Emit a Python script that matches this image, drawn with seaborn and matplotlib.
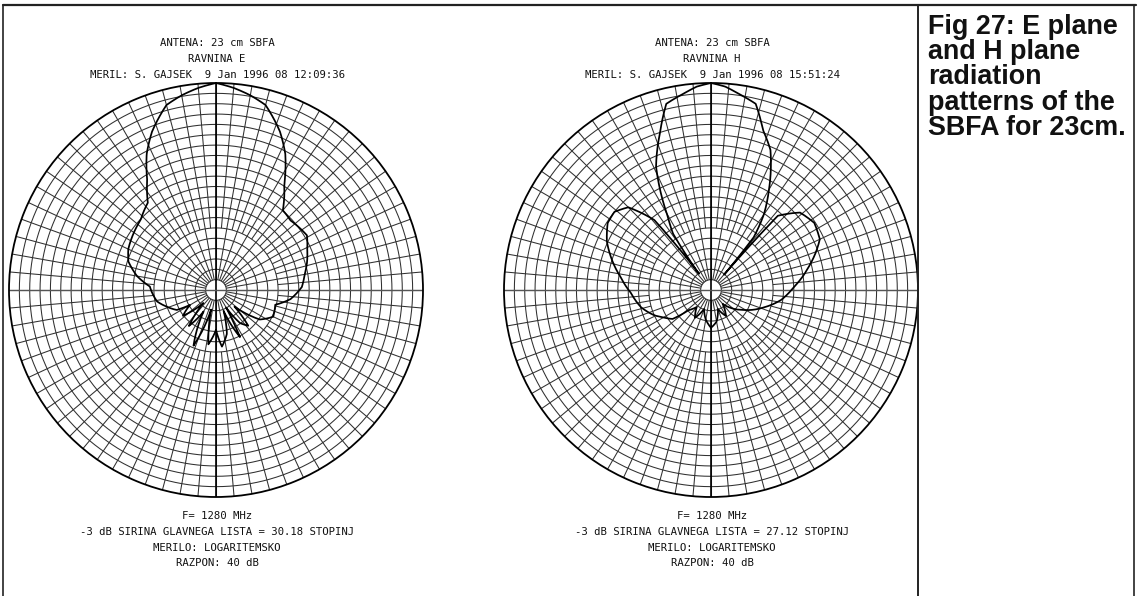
import numpy as np
import pandas as pd
import matplotlib
matplotlib.use("Agg")
import matplotlib.pyplot as plt
from matplotlib.lines import Line2D
import seaborn as sns

# ---- measured radiation patterns (angle in degrees, clockwise from boresight; level in dB) ----
e_angle = [-180, -172, -166, -158, -150, -143, -136, -128, -120, -117, -109, -101,
           -92, -87, -80, -72, -65, -56, -47, -38, -32, -27, -22, -15, -10, -5,
           0, 5, 10, 15, 22, 27, 33, 40, 47, 59, 66, 73, 80, 88, 97, 104,
           115, 124, 132, 138, 144, 150, 153, 160, 166, 174]
e_level = [-32.3, -29.4, -36.1, -28.4, -35.2, -31.3, -36.5, -31.9, -34.2, -31.5, -30.0, -28.4,
           -27.6, -27.2, -24.5, -22.2, -21.3, -20.7, -20.1, -18.6, -14.9, -10.5, -7.0, -3.0, -1.8, -0.8,
           0.0, -0.8, -1.8, -3.0, -7.0, -10.5, -15.8, -19.9, -20.3, -19.5, -20.7, -21.6, -22.6, -23.4, -25.5, -28.2,
           -27.8, -29.8, -35.2, -30.7, -32.1, -36.1, -29.8, -35.7, -31.3, -29.0]

h_angle = [-180, -170, -160, -150, -140, -132, -127, -120, -114, -104, -92, -82,
           -72, -65, -57, -51, -45, -39, -36.5, -34, -30.5, -24, -18, -13.5, -8, -4,
           0, 4, 8, 13.5, 18, 23, 30, 35, 39, 40.5, 42, 49, 57, 65, 70, 77,
           88, 98, 108, 121, 132, 140, 150, 160, 170]
h_level = [-32.7, -34.2, -36.1, -33.8, -35.7, -34.2, -30.7, -29.4, -28.0, -26.1, -24.5, -22.4,
           -19.7, -17.8, -16.2, -16.0, -17.4, -22.6, -36.1, -26.9, -23.6, -13.9, -8.1, -3.0, -1.7, -0.6,
           0.0, -0.6, -1.7, -3.0, -7.5, -10.6, -17.6, -22.2, -26.9, -36.1, -20.7, -17.2, -16.2, -16.8, -18.4, -20.7,
           -24.0, -26.3, -29.2, -32.5, -34.8, -36.5, -34.2, -36.1, -33.8]

DB_RANGE = 40

e_header = ["ANTENA: 23 cm SBFA", "RAVNINA E", "MERIL: S. GAJSEK  9 Jan 1996 08 12:09:36"]
e_footer = ["F= 1280 MHz", "-3 dB SIRINA GLAVNEGA LISTA = 30.18 STOPINJ",
            "MERILO: LOGARITEMSKO", "RAZPON: 40 dB"]
h_header = ["ANTENA: 23 cm SBFA", "RAVNINA H", "MERIL: S. GAJSEK  9 Jan 1996 08 15:51:24"]
h_footer = ["F= 1280 MHz", "-3 dB SIRINA GLAVNEGA LISTA = 27.12 STOPINJ",
            "MERILO: LOGARITEMSKO", "RAZPON: 40 dB"]
caption = "Fig 27: E plane\nand H plane\nradiation\npatterns of the\nSBFA for 23cm."

sns.set_theme(style="white")
plt.rcParams["font.family"] = ["DejaVu Sans Mono"]

W, H = 1140, 596
fig = plt.figure(figsize=(W / 100, H / 100), dpi=100)
fig.patch.set_facecolor("white")


def px(x, y):
    return x / W, 1 - y / H


def polar_grid(ax):
    grid_c = "#303030"
    th = np.linspace(0, 2 * np.pi, 721)
    for r in np.arange(2, DB_RANGE, 2):
        ax.plot(th, np.full_like(th, r), color=grid_c, lw=0.75, zorder=1)
    ax.vlines(np.deg2rad(np.arange(0, 360, 10)), 2, DB_RANGE, color=grid_c, lw=0.75, zorder=1)
    ax.vlines(np.deg2rad(np.arange(5, 360, 10)), 12, DB_RANGE, color=grid_c, lw=0.75, zorder=1)
    ax.vlines(np.deg2rad([0, 180]), 0, DB_RANGE, color="black", lw=1.2, zorder=2)
    ax.vlines(np.deg2rad([90, 270]), 0, DB_RANGE, color="#555555", lw=1.0, zorder=2)


def pattern_axes(cx, cy, radius, angles, levels):
    left, bottom = (cx - radius) / W, 1 - (cy + radius) / H
    ax = fig.add_axes([left, bottom, 2 * radius / W, 2 * radius / H], projection="polar")
    ax.set_theta_zero_location("N")
    ax.set_theta_direction(-1)
    ax.set_facecolor("white")
    ax.grid(False)
    polar_grid(ax)
    ang = list(angles) + [angles[0] + 360]
    lev = list(levels) + [levels[0]]
    df = pd.DataFrame({"theta": np.deg2rad(ang), "r": np.array(lev) + DB_RANGE})
    sns.lineplot(data=df, x="theta", y="r", ax=ax, sort=False, estimator=None,
                 color="black", lw=1.25, zorder=3)
    # draw each segment along the polar curve rather than as a chord
    ax.lines[-1].get_path()._interpolation_steps = 40
    ax.set_ylim(0, DB_RANGE)
    ax.set_xticks([])
    ax.set_yticks([])
    ax.set_xlabel("")
    ax.set_ylabel("")
    ax.spines["polar"].set_color("black")
    ax.spines["polar"].set_linewidth(1.3)
    return ax


pattern_axes(216, 290, 207, e_angle, e_level)
pattern_axes(711, 290, 207, h_angle, h_level)

# plotter annotations
for cx, header, footer in [(217, e_header, e_footer), (712, h_header, h_footer)]:
    for y, s in zip([43, 59, 75], header):
        fig.text(*px(cx, y), s, ha="center", va="center", fontsize=7.7, color="#111111")
    for y, s in zip([516, 532, 548, 563], footer):
        fig.text(*px(cx, y), s, ha="center", va="center", fontsize=7.7, color="#111111")

# caption panel
fig.text(*px(928, 14), caption, ha="left", va="top", fontsize=19.4, fontweight="bold",
         family=["Liberation Sans", "DejaVu Sans"], linespacing=0.96, color="#111111")

# page frame
for (x0, y0, x1, y1, lw) in [(3, 5, 1136, 5, 1.6), (3, 5, 3, 596, 1.2),
                             (918, 5, 918, 596, 1.4), (1134, 5, 1134, 596, 1.2)]:
    a, b = px(x0, y0)
    c, d = px(x1, y1)
    fig.add_artist(Line2D([a, c], [b, d], transform=fig.transFigure, color="#222222", lw=lw))

fig.savefig("out.png", dpi=100, facecolor="white")
